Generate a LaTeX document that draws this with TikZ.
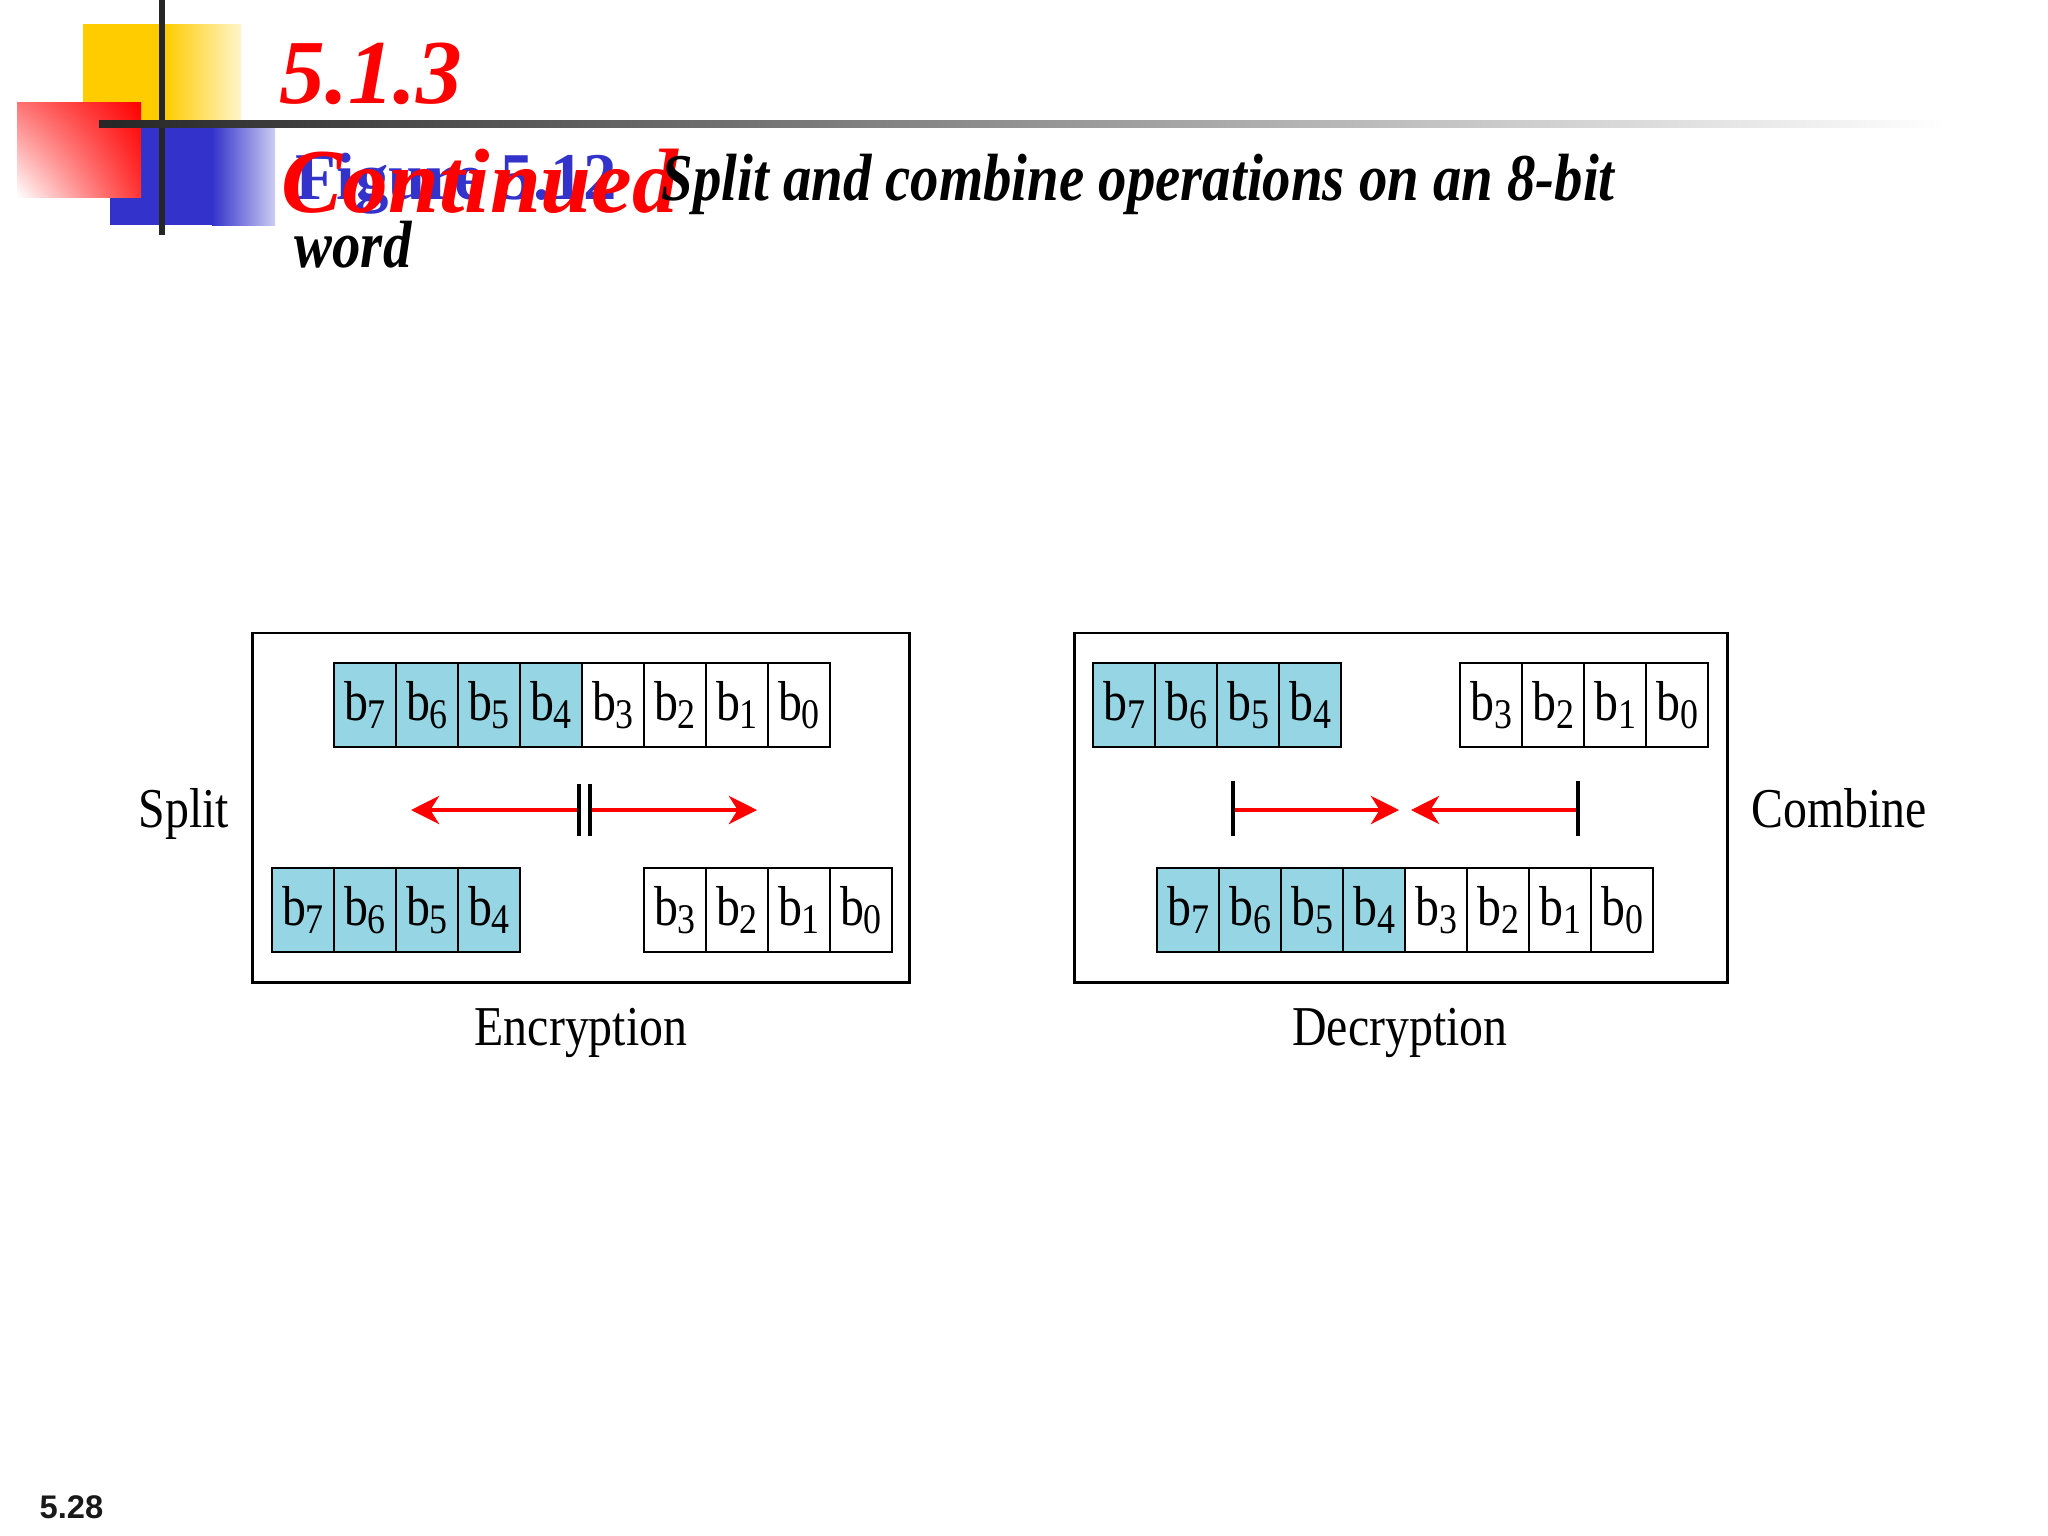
\documentclass[tikz,border=0pt]{standalone}
\usepackage{fontspec}
\setmainfont{Liberation Serif}
\newfontfamily\narrowfont[FakeStretch=0.85]{Liberation Serif}
\newfontfamily\numfont{Liberation Sans}
\usetikzlibrary{arrows.meta,shadings}
\definecolor{cellblue}{RGB}{150,214,228}
\definecolor{slideblue}{RGB}{51,51,204}
\definecolor{slideyellow}{RGB}{255,204,0}
\newcommand{\bitlbl}[1]{b\raisebox{-0.14em}{\fontsize{12}{12}\selectfont #1}}
\tikzset{
  bitcell/.style={draw, line width=0.8pt, minimum width=0.62cm, minimum height=0.84cm,
    inner sep=0pt, font=\narrowfont\fontsize{16}{16}\selectfont},
  hibit/.style={bitcell, fill=cellblue},
  frame/.style={draw, line width=0.8pt, inner sep=0pt},
  redarrow/.style={draw=red, line width=1.2pt, -{Stealth[length=8pt,width=8pt,inset=2.5pt]}},
  bar/.style={draw, line width=1.1pt},
  caption/.style={font=\narrowfont\fontsize{16}{16}\selectfont, anchor=base}
}
\begin{document}
\begin{tikzpicture}[x=0.01cm,y=-0.01cm]
	\useasboundingbox (0,0) rectangle (2048,1536);
	%corner squares
	\fill[slideyellow] (83,24) rectangle (165,124);
	\shade[left color=slideyellow, right color=slideyellow!20] (165,24) rectangle (241,124);
	\fill[slideblue] (110,124) rectangle (212,225);
	\shade[left color=slideblue, right color=slideblue!25] (212,124) rectangle (275,225);
	\shade[upper right=red, lower left=white, upper left=red!55, lower right=red!80] (17,102) rectangle (141,197);
	%corner lines
	\fill[black!85] (159,0) rectangle (165,235);
	\shade[left color=black!85, right color=white] (99,120) rectangle (1946,127);
	%title
	\node[anchor=base west, inner sep=0pt, text=red, font=\bfseries\itshape\fontsize{26}{26}\selectfont] (sec) at (279,103) {5.1.3};
	\node[anchor=base west, inner sep=0pt, text=slideblue, font=\bfseries\fontsize{19}{19}\selectfont] (fig) at (295,199) {Figure 5.12};
	\node[anchor=base west, inner sep=0pt, text=red, font=\bfseries\itshape\fontsize{26}{26}\selectfont] (cont) at (281,212) {Continued};
	\node[anchor=base west, inner sep=0pt, font=\narrowfont\bfseries\itshape\fontsize{19}{19}\selectfont] (sub) at (661,200) {Split and combine operations on an 8-bit};
	\node[anchor=base west, inner sep=0pt, font=\narrowfont\bfseries\itshape\fontsize{19}{19}\selectfont] (sub2) at (294,267) {word};
	%encryption
	\node[frame, minimum width=6.56cm, minimum height=3.49cm] (encbox) at (581,807.5) {};
	\foreach \b [count=\k from 0] in {7,6,5,4}
		\node[hibit] (etop\b) at ({365+62*\k},705) {\bitlbl{\b}};
	\foreach \b [count=\k from 4] in {3,2,1,0}
		\node[bitcell] (etop\b) at ({365+62*\k},705) {\bitlbl{\b}};
	\foreach \b [count=\k from 0] in {7,6,5,4}
		\node[hibit] (ebot\b) at ({303+62*\k},910) {\bitlbl{\b}};
	\foreach \b [count=\k from 0] in {3,2,1,0}
		\node[bitcell] (ebot\b) at ({675+62*\k},910) {\bitlbl{\b}};
	\coordinate (ecut1) at (579,810);
	\coordinate (ecut2) at (590,810);
	\coordinate (eleft) at (411,810);
	\coordinate (eright) at (757,810);
	\draw[redarrow] (ecut1) -- (eleft);
	\draw[redarrow] (ecut2) -- (eright);
	\draw[bar] (579,784) -- (579,836);
	\draw[bar] (590,784) -- (590,836);
	\node[caption] (split) at (184,827) {Split};
	\node[caption] (enc) at (581,1045) {Encryption};
	%decryption
	\node[frame, minimum width=6.52cm, minimum height=3.49cm] (decbox) at (1401,807.5) {};
	\foreach \b [count=\k from 0] in {7,6,5,4}
		\node[hibit] (dtop\b) at ({1124+62*\k},705) {\bitlbl{\b}};
	\foreach \b [count=\k from 0] in {3,2,1,0}
		\node[bitcell] (dtop\b) at ({1491+62*\k},705) {\bitlbl{\b}};
	\foreach \b [count=\k from 0] in {7,6,5,4}
		\node[hibit] (dbot\b) at ({1188+62*\k},910) {\bitlbl{\b}};
	\foreach \b [count=\k from 4] in {3,2,1,0}
		\node[bitcell] (dbot\b) at ({1188+62*\k},910) {\bitlbl{\b}};
	\coordinate (dstart1) at (1233,810);
	\coordinate (dstart2) at (1578,810);
	\coordinate (dmeet1) at (1399,810);
	\coordinate (dmeet2) at (1411,810);
	\draw[redarrow] (dstart1) -- (dmeet1);
	\draw[redarrow] (dstart2) -- (dmeet2);
	\draw[bar] (1233,781) -- (1233,836);
	\draw[bar] (1578,781) -- (1578,836);
	\node[caption] (comb) at (1839,827) {Combine};
	\node[caption] (dec) at (1400,1045) {Decryption};
	%slide number
	\node[anchor=base west, inner sep=0pt, font=\numfont\bfseries\fontsize{9.3}{9.3}\selectfont, text=black!90] (num) at (39,1518) {5.28};
\end{tikzpicture}
\end{document}
